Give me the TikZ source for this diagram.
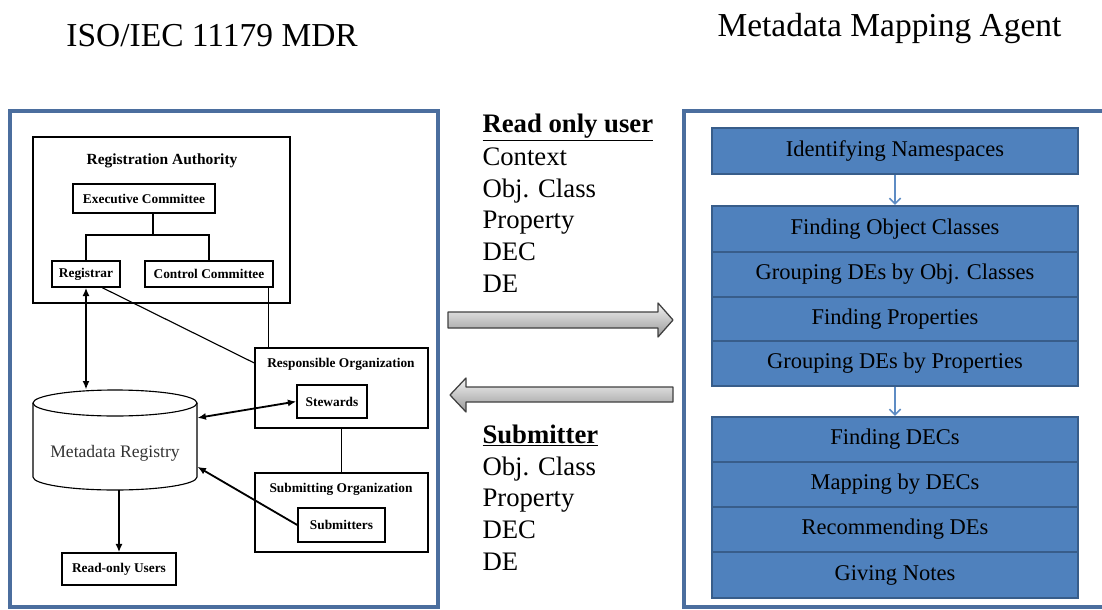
\documentclass[tikz,border=0pt]{standalone}
\usepackage{fontspec}
\setmainfont{Liberation Serif}
\usetikzlibrary{arrows.meta,fit,calc}

\definecolor{panelblue}{HTML}{4B6E9E}
\definecolor{stackfill}{HTML}{4F81BD}
\definecolor{stackedge}{HTML}{385D8A}
\definecolor{stackarrow}{HTML}{5E8CC4}

\begin{document}
\begin{tikzpicture}[x=.025cm,y=-.025cm,line width=.7pt,
  panel/.style={draw=panelblue,line width=2.2pt},
  orgbox/.style={draw,line width=1pt,inner sep=0pt},
  orglabel/.style={inner sep=0pt,font=\fontsize{9.5}{11}\selectfont\bfseries},
  stackbox/.style={draw=stackedge,fill=stackfill,line width=1.5pt,inner sep=0pt},
  stacktext/.style={inner sep=0pt,font=\fontsize{16}{19}\selectfont},
  listtext/.style={anchor=base west,inner sep=0pt,font=\fontsize{19}{22}\selectfont},
  heading/.style={anchor=base west,inner sep=0pt,font=\fontsize{23.8}{28}\selectfont},
  link/.style={line width=.8pt},
  flow/.style={line width=1.3pt,-{Latex[length=6pt,width=5pt]}},
  flowboth/.style={line width=1.3pt,{Latex[length=6pt,width=5pt]}-{Latex[length=6pt,width=5pt]}},
  stackflow/.style={draw=stackarrow,line width=1.2pt,-{Straight Barb[length=4pt,width=8pt]}},
  bigarrow/.style={draw=black!75,line width=.9pt,top color=black!5,bottom color=black!40,line join=round}]
\useasboundingbox (0,0) rectangle (1102,610);

% titles
\node[heading] (mdrtitle) at (66,47) {ISO/IEC 11179 MDR};
\node[heading] (agenttitle) at (717,37) {Metadata Mapping Agent};

% left panel: the registry
\draw[panel] (10,111) rectangle (438,607);
\node[orgbox,fit={(33,137) (290,303)}] (ra) {};
\node[orglabel,font=\fontsize{11}{13}\selectfont\bfseries] (ralabel) at (162,161) {Registration Authority};
\node[orgbox,fit={(73,184) (215,213)},label={[orglabel]center:Executive Committee}] (exec) {};
\node[orgbox,fit={(52,261) (120,287)},label={[orglabel]center:Registrar}] (reg) {};
\node[orgbox,fit={(145,261) (273,287)},label={[orglabel]center:Control Committee}] (cc) {};
\coordinate (fork) at (153,235);
\draw[link] (fork |- exec.south) -- (fork);
\draw[link] (reg.north) |- (fork) -| (cc.north);

\node[orgbox,fit={(255,348) (428,428)}] (resp) {};
\node[orglabel] (resplabel) at (341,364) {Responsible Organization};
\node[orgbox,fit={(297,385) (367,418)},label={[orglabel]center:Stewards}] (stew) {};
\node[orgbox,fit={(255,473) (428,552)}] (subo) {};
\node[orglabel] (subolabel) at (341,489) {Submitting Organization};
\node[orgbox,fit={(298,508) (385,542)},label={[orglabel]center:Submitters}] (subm) {};
\node[orgbox,fit={(62,553) (176,585)},label={[orglabel]center:Read-only Users}] (rou) {};

% the registry store
\draw[line width=.8pt] (33,403) -- (33,477) arc[start angle=180,end angle=0,x radius=82,y radius=13] -- (197,403);
\draw[line width=.8pt] (115,403) ellipse [x radius=82,y radius=13];
\node[fit={(33,390) (197,490)},inner sep=0pt] (mdr) {};
\node[inner sep=0pt,text=black!80,font=\fontsize{12.5}{15}\selectfont] (mdrlabel) at (115,453) {Metadata Registry};

\draw[flowboth] (reg.south) -- (reg.south |- mdr.north);
\draw[link] (reg.-40) -- (resp.164);
\draw[link] (cc.-13) -- (cc.-13 |- resp.north);
\draw[link] (resp.south) -- (subo.north);
\draw[flowboth] (stew.west) -- (mdr.15);
\draw[flow] (subm.west) -- (mdr.-18);
\draw[flow] (mdr.south -| rou.north) -- (rou.north);

% exchanged items
\node[listtext] (ruser) at (482,133) {\textbf{\underline{Read only user}}};
\node[listtext] (rcontext) at (482,165) {Context};
\node[listtext] (rclass) at (482,197) {Obj. Class};
\node[listtext] (rprop) at (482,228) {Property};
\node[listtext] (rdec) at (482,260) {DEC};
\node[listtext] (rde) at (482,292) {DE};
\draw[bigarrow] (448,312) -- (658,312) -- (658,303) -- (673,320) -- (658,337) -- (658,328) -- (448,328) -- cycle;
\draw[bigarrow] (673,387) -- (466,387) -- (466,378) -- (450,395) -- (466,412) -- (466,402) -- (673,402) -- cycle;
\node[listtext] (suser) at (482,443) {\textbf{\underline{Submitter}}};
\node[listtext] (sclass) at (482,475) {Obj. Class};
\node[listtext] (sprop) at (482,506) {Property};
\node[listtext] (sdec) at (482,538) {DEC};
\node[listtext] (sde) at (482,570) {DE};

% right panel: the agent
\draw[panel] (1102,111) -- (684,111) -- (684,607) -- (1102,607);
\node[stackbox,fit={(712,128) (1078,174)},label={[stacktext]center:Identifying Namespaces}] (names) {};
\node[stackbox,fit={(712,206) (1078,252)},label={[stacktext]center:Finding Object Classes}] (objcls) {};
\node[stackbox,fit={(712,252) (1078,297)},label={[stacktext]center:Grouping DEs by Obj. Classes}] (grpcls) {};
\node[stackbox,fit={(712,297) (1078,341)},label={[stacktext]center:Finding Properties}] (props) {};
\node[stackbox,fit={(712,341) (1078,386)},label={[stacktext]center:Grouping DEs by Properties}] (grpprop) {};
\node[stackbox,fit={(712,417) (1078,462)},label={[stacktext]center:Finding DECs}] (decs) {};
\node[stackbox,fit={(712,462) (1078,507)},label={[stacktext]center:Mapping by DECs}] (mapdec) {};
\node[stackbox,fit={(712,507) (1078,552)},label={[stacktext]center:Recommending DEs}] (recde) {};
\node[stackbox,fit={(712,552) (1078,598)},label={[stacktext]center:Giving Notes}] (notes) {};
\draw[stackflow] (names.south) -- (objcls.north);
\draw[stackflow] (grpprop.south) -- (decs.north);
\end{tikzpicture}
\end{document}
